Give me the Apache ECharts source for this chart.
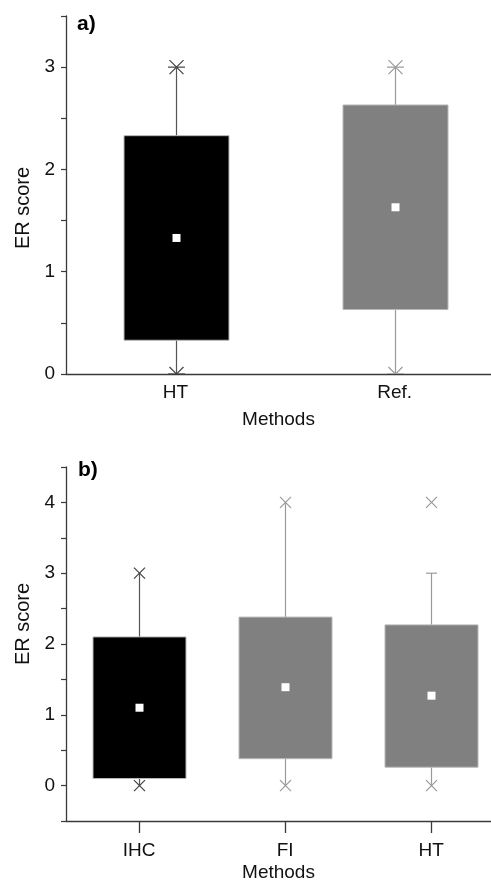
<!DOCTYPE html>
<html><head><meta charset="utf-8">
<script src="https://cdn.jsdelivr.net/npm/echarts@6/dist/echarts.min.js"></script>
<style>html,body{margin:0;padding:0;background:#fff}#c{width:491px;height:883px}</style>
</head><body><div id="c"></div><script>
// ---- panel a) ----
const topCategories = ['HT', 'Ref.'];
const topQ1 = [0.33, 0.63];
const topQ3 = [2.33, 2.63];
const topMean = [1.33, 1.63];
const topWhiskerLow = [0, 0];
const topWhiskerHigh = [3, 3];
const topMarkLow = [0, 0];
const topMarkHigh = [3, 3];
const topYLabels = ['0', '1', '2', '3'];

// ---- panel b) ----
const botCategories = ['IHC', 'FI', 'HT'];
const botQ1 = [0.10, 0.38, 0.26];
const botQ3 = [2.10, 2.38, 2.27];
const botMean = [1.10, 1.39, 1.27];
const botWhiskerLow = [0, 0, 0];
const botWhiskerHigh = [3, 4, 3];
const botMarkLow = [0, 0, 0];
const botMarkHigh = [3, 4, 4];
const botYLabels = ['0', '1', '2', '3', '4'];

const FONT = "'Liberation Sans', Arial, sans-serif";

function buildData(cats, q1, q3, mean, wl, wh, ml, mh) {
  return cats.map((c, i) => [i, q1[i], q3[i], mean[i], wl[i], wh[i], ml[i], mh[i]]);
}

function makeRender(cfg) {
  return function (params, api) {
    const i = api.value(0);
    const pQ1 = api.coord([i, api.value(1)]);
    const pQ3 = api.coord([i, api.value(2)]);
    const pMean = api.coord([i, api.value(3)]);
    const pWL = api.coord([i, api.value(4)]);
    const pWH = api.coord([i, api.value(5)]);
    const pML = api.coord([i, api.value(6)]);
    const pMH = api.coord([i, api.value(7)]);
    const cx = Math.round(pQ1[0]) + 0.5;
    const bw = cfg.boxWidth;
    const wc = cfg.whiskerColors[i];
    const mc = cfg.markColors[i];
    const ch = [];
    ch.push({ type: 'line', shape: { x1: cx, y1: pQ3[1], x2: cx, y2: pWH[1] }, style: { stroke: wc, lineWidth: 1.2 } });
    ch.push({ type: 'line', shape: { x1: cx, y1: pQ1[1], x2: cx, y2: pWL[1] }, style: { stroke: wc, lineWidth: 1.2 } });
    ch.push({ type: 'rect', shape: { x: cx - bw / 2, y: pQ3[1], width: bw, height: pQ1[1] - pQ3[1] },
      style: { fill: cfg.fills[i], stroke: '#b8b8b8', lineWidth: 1 } });
    if (api.value(5) !== api.value(7)) {
      ch.push({ type: 'line', shape: { x1: cx - cfg.capWidth / 2, y1: pWH[1], x2: cx + cfg.capWidth / 2, y2: pWH[1] }, style: { stroke: wc, lineWidth: 1.2 } });
    }
    if (api.value(4) !== api.value(6)) {
      ch.push({ type: 'line', shape: { x1: cx - cfg.capWidth / 2, y1: pWL[1], x2: cx + cfg.capWidth / 2, y2: pWL[1] }, style: { stroke: wc, lineWidth: 1.2 } });
    }
    function cross(p) {
      const s = cfg.markSize / 2;
      ch.push({ type: 'line', shape: { x1: cx - s, y1: p[1] - s, x2: cx + s, y2: p[1] + s }, style: { stroke: mc, lineWidth: 1.2 } });
      ch.push({ type: 'line', shape: { x1: cx - s, y1: p[1] + s, x2: cx + s, y2: p[1] - s }, style: { stroke: mc, lineWidth: 1.2 } });
      if (cfg.dash) {
        const d = cfg.dashWidth / 2;
        ch.push({ type: 'line', shape: { x1: cx - d, y1: p[1], x2: cx + d, y2: p[1] }, style: { stroke: mc, lineWidth: 1.2 } });
      }
    }
    cross(pML);
    cross(pMH);
    ch.push({ type: 'rect', shape: { x: cx - 4, y: pMean[1] - 4, width: 8, height: 8 }, style: { fill: '#ffffff' } });
    return { type: 'group', children: ch };
  };
}

function yFormatter(labels) {
  return function (v) { const s = String(v); return labels.indexOf(s) >= 0 ? s : ''; };
}
function catFormatter(cats) {
  return function (v) { const k = Math.round(v); return (Math.abs(v - k) < 1e-6 && cats[k] !== undefined) ? cats[k] : ''; };
}
function indices(cats) { return cats.map((c, i) => i); }

const axisLineStyle = { color: '#3a3a3a', width: 1.3 };
const labelStyle = { fontSize: 19, color: '#111', fontFamily: FONT };
const nameStyle = { fontSize: 19, color: '#111', fontFamily: FONT };

const option = {
  animation: false,
  backgroundColor: '#ffffff',
  grid: [
    { left: 66, top: 16, right: 0, height: 358 },
    { left: 66, top: 467, right: 0, height: 356 }
  ],
  xAxis: [
    { type: 'value', gridIndex: 0, min: -0.5, max: 1.44,
      axisLine: { show: true, onZero: false, lineStyle: axisLineStyle }, axisTick: { show: false },
      splitLine: { show: false },
      axisLabel: Object.assign({ margin: 9, customValues: indices(topCategories), formatter: catFormatter(topCategories) }, labelStyle),
      name: 'Methods', nameLocation: 'middle', nameGap: 36, nameTextStyle: nameStyle },
    { type: 'value', gridIndex: 1, min: -0.5, max: 2.41,
      axisLine: { show: true, onZero: false, lineStyle: axisLineStyle },
      axisTick: { show: true, length: 12, customValues: indices(botCategories), lineStyle: { color: '#3a3a3a', width: 1.3 } },
      splitLine: { show: false },
      axisLabel: Object.assign({ margin: 20, customValues: indices(botCategories), formatter: catFormatter(botCategories) }, labelStyle),
      name: 'Methods', nameLocation: 'middle', nameGap: 42, nameTextStyle: nameStyle }
  ],
  yAxis: [
    { type: 'value', gridIndex: 0, min: 0, max: 3.5, interval: 0.5,
      axisLine: { show: true, onZero: false, lineStyle: axisLineStyle },
      axisTick: { show: true, length: 5, lineStyle: { color: '#3a3a3a', width: 1.2 } },
      splitLine: { show: false },
      axisLabel: Object.assign({ margin: 11, formatter: yFormatter(topYLabels) }, labelStyle) },
    { type: 'value', gridIndex: 1, min: -0.5, max: 4.5, interval: 0.5,
      axisLine: { show: true, onZero: false, lineStyle: axisLineStyle },
      axisTick: { show: true, length: 5, lineStyle: { color: '#3a3a3a', width: 1.2 } },
      splitLine: { show: false },
      axisLabel: Object.assign({ margin: 11, formatter: yFormatter(botYLabels) }, labelStyle) }
  ],
  series: [
    { type: 'custom', xAxisIndex: 0, yAxisIndex: 0, clip: true,
      renderItem: makeRender({ boxWidth: 105, markSize: 14, dash: true, dashWidth: 17, capWidth: 11,
        fills: ['#000000', '#808080'], whiskerColors: ['#555555', '#9a9a9a'], markColors: ['#444444', '#9a9a9a'] }),
      encode: { x: 0, y: [1, 2, 3, 4, 5, 6, 7] },
      data: buildData(topCategories, topQ1, topQ3, topMean, topWhiskerLow, topWhiskerHigh, topMarkLow, topMarkHigh) },
    { type: 'custom', xAxisIndex: 1, yAxisIndex: 1, clip: true,
      renderItem: makeRender({ boxWidth: 93, markSize: 11, dash: false, dashWidth: 0, capWidth: 11,
        fills: ['#000000', '#808080', '#808080'], whiskerColors: ['#555555', '#9a9a9a', '#9a9a9a'], markColors: ['#444444', '#9a9a9a', '#9a9a9a'] }),
      encode: { x: 0, y: [1, 2, 3, 4, 5, 6, 7] },
      data: buildData(botCategories, botQ1, botQ3, botMean, botWhiskerLow, botWhiskerHigh, botMarkLow, botMarkHigh) }
  ],
  graphic: [
    { type: 'text', left: 77, top: 14, style: { text: 'a)', font: "bold 21px " + FONT, fill: '#000' } },
    { type: 'text', left: 78, top: 460, style: { text: 'b)', font: "bold 21px " + FONT, fill: '#000' } },
    { type: 'text', x: 23, y: 208, rotation: Math.PI / 2,
      style: { text: 'ER score', font: "20px " + FONT, fill: '#111', align: 'center', verticalAlign: 'middle' } },
    { type: 'text', x: 23, y: 624, rotation: Math.PI / 2,
      style: { text: 'ER score', font: "20px " + FONT, fill: '#111', align: 'center', verticalAlign: 'middle' } }
  ]
};

const chart = echarts.init(document.getElementById('c'), null, { renderer: 'canvas' });
chart.setOption(option);
</script></body></html>
